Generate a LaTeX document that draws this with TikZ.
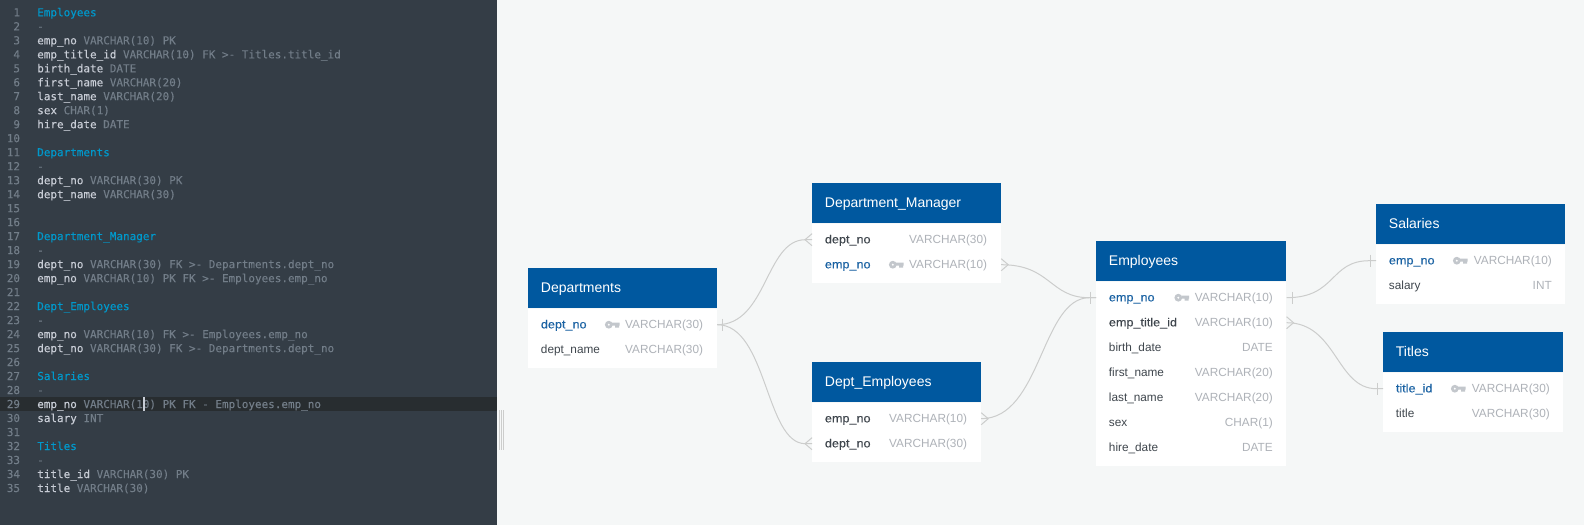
\documentclass[tikz,border=0pt]{standalone}
\usepackage{fontspec}
\setmainfont{Liberation Sans}
\newfontfamily\codefont[FakeBold=0.12]{DejaVu Sans Mono}
\newfontfamily\midfont[FakeBold=0.35,FakeStretch=1.07]{Liberation Sans}
\usetikzlibrary{positioning}
\definecolor{pagebg}{HTML}{F5F7F7}
\definecolor{editorbg}{HTML}{343D46}
\definecolor{editorhl}{HTML}{282D30}
\definecolor{codename}{HTML}{C8CDD6}
\definecolor{codetype}{HTML}{727D88}
\definecolor{codehead}{HTML}{0099CC}
\definecolor{headblue}{HTML}{00589F}
\definecolor{pkblue}{HTML}{1A62A3}
\definecolor{fieldtext}{HTML}{3F464D}
\definecolor{typetext}{HTML}{AEB2B8}
\definecolor{keygrey}{HTML}{C3C7CC}
\definecolor{relgrey}{HTML}{CCCDCC}
\newcommand{\ty}[1]{\textcolor{codetype}{#1}}
\tikzset{
    linenum/.style={anchor=east, inner sep=0pt, text=codetype, text height=8pt, text depth=2pt, font=\codefont\fontsize{8.22}{10}\selectfont},
    codeline/.style={anchor=west, inner sep=0pt, text=codename, text height=8pt, text depth=2pt, font=\codefont\fontsize{8.22}{10}\selectfont},
    codetitle/.style={codeline, text=codehead},
    tablehead/.style={anchor=north west, fill=headblue, text=white, minimum height=30pt, inner ysep=0pt, inner xsep=9.5pt, align=left, text height=8.5pt, text depth=2pt, font=\fontsize{10.5}{12}\selectfont},
    tablebody/.style={anchor=north west, fill=white, inner sep=0pt},
    fieldrow/.style={anchor=west, text width=#1, align=left, minimum height=18.75pt, inner ysep=0pt, inner xsep=9.5pt, text=fieldtext, text height=7.5pt, text depth=2pt, font=\fontsize{8.85}{10}\selectfont},
    fkrow/.style={fieldrow=#1, font=\midfont\fontsize{8.85}{10}\selectfont},
    pkrow/.style={fkrow=#1, text=pkblue},
    fieldtype/.style={anchor=east, inner sep=0pt, text=typetext, text height=7.5pt, text depth=2pt, font=\fontsize{8.85}{10}\selectfont},
    relline/.style={draw=relgrey, line width=0.75pt},
    keyicon/.pic={
        \fill[keygrey, even odd rule] (3.8,0) circle (3.9) (3.8,0) circle (1.3);
        \fill[keygrey] (7,-2) rectangle (14.5,0.8) (10,0.8) rectangle (14,3);
    },
    crowleft/.pic={\draw[relline] (0,-6) -- (-7,0) -- (0,6);},
    crowright/.pic={\draw[relline] (0,-6) -- (7,0) -- (0,6);},
    tickmark/.pic={\draw[relline] (0,-6) -- (0,6);}
}
\begin{document}
\begin{tikzpicture}[x=0.75pt, y=-0.75pt]
    \useasboundingbox (0,0) rectangle (1584,525);
    % Backgrounds
    \fill[pagebg] (0,0) rectangle (1584,525);
    \fill[editorbg] (0,0) rectangle (497,525);
    \fill[editorhl] (0,397) rectangle (497,411);
    % Splitter
    \draw[relgrey, line width=0.75pt] (499.5,410) -- (499.5,450);
    \draw[relgrey, line width=0.75pt] (501.7,410) -- (501.7,450);
    \draw[relgrey, line width=0.75pt] (503.8,410) -- (503.8,450);

    % Line numbers
    \node[linenum] (ln1) at (20.3,12.3) {1};
    \node[linenum] (ln2) at (20.3,26.3) {2};
    \node[linenum] (ln3) at (20.3,40.3) {3};
    \node[linenum] (ln4) at (20.3,54.3) {4};
    \node[linenum] (ln5) at (20.3,68.3) {5};
    \node[linenum] (ln6) at (20.3,82.3) {6};
    \node[linenum] (ln7) at (20.3,96.2) {7};
    \node[linenum] (ln8) at (20.3,110.2) {8};
    \node[linenum] (ln9) at (20.3,124.2) {9};
    \node[linenum] (ln10) at (20.3,138.2) {10};
    \node[linenum] (ln11) at (20.3,152.2) {11};
    \node[linenum] (ln12) at (20.3,166.2) {12};
    \node[linenum] (ln13) at (20.3,180.2) {13};
    \node[linenum] (ln14) at (20.3,194.2) {14};
    \node[linenum] (ln15) at (20.3,208.2) {15};
    \node[linenum] (ln16) at (20.3,222.1) {16};
    \node[linenum] (ln17) at (20.3,236.1) {17};
    \node[linenum] (ln18) at (20.3,250.1) {18};
    \node[linenum] (ln19) at (20.3,264.1) {19};
    \node[linenum] (ln20) at (20.3,278.1) {20};
    \node[linenum] (ln21) at (20.3,292.1) {21};
    \node[linenum] (ln22) at (20.3,306.1) {22};
    \node[linenum] (ln23) at (20.3,320.1) {23};
    \node[linenum] (ln24) at (20.3,334.1) {24};
    \node[linenum] (ln25) at (20.3,348.1) {25};
    \node[linenum] (ln26) at (20.3,362) {26};
    \node[linenum] (ln27) at (20.3,376) {27};
    \node[linenum] (ln28) at (20.3,390) {28};
    \node[linenum] (ln29) at (20.3,404) {29};
    \node[linenum] (ln30) at (20.3,418) {30};
    \node[linenum] (ln31) at (20.3,432) {31};
    \node[linenum] (ln32) at (20.3,446) {32};
    \node[linenum] (ln33) at (20.3,460) {33};
    \node[linenum] (ln34) at (20.3,474) {34};
    \node[linenum] (ln35) at (20.3,488) {35};

    % Code text
    \node[codetitle] (code1) at (37,12.3) {Employees};
    \node[codeline] (code2) at (37,26.3) {\ty{-}};
    \node[codeline] (code3) at (37,40.3) {emp\_no \ty{VARCHAR(10) PK}};
    \node[codeline] (code4) at (37,54.3) {emp\_title\_id \ty{VARCHAR(10) FK >- Titles.title\_id}};
    \node[codeline] (code5) at (37,68.3) {birth\_date \ty{DATE}};
    \node[codeline] (code6) at (37,82.3) {first\_name \ty{VARCHAR(20)}};
    \node[codeline] (code7) at (37,96.2) {last\_name \ty{VARCHAR(20)}};
    \node[codeline] (code8) at (37,110.2) {sex \ty{CHAR(1)}};
    \node[codeline] (code9) at (37,124.2) {hire\_date \ty{DATE}};
    \node[codetitle] (code11) at (37,152.2) {Departments};
    \node[codeline] (code12) at (37,166.2) {\ty{-}};
    \node[codeline] (code13) at (37,180.2) {dept\_no \ty{VARCHAR(30) PK}};
    \node[codeline] (code14) at (37,194.2) {dept\_name \ty{VARCHAR(30)}};
    \node[codetitle] (code17) at (37,236.1) {Department\_Manager};
    \node[codeline] (code18) at (37,250.1) {\ty{-}};
    \node[codeline] (code19) at (37,264.1) {dept\_no \ty{VARCHAR(30) FK >- Departments.dept\_no}};
    \node[codeline] (code20) at (37,278.1) {emp\_no \ty{VARCHAR(10) PK FK >- Employees.emp\_no}};
    \node[codetitle] (code22) at (37,306.1) {Dept\_Employees};
    \node[codeline] (code23) at (37,320.1) {\ty{-}};
    \node[codeline] (code24) at (37,334.1) {emp\_no \ty{VARCHAR(10) FK >- Employees.emp\_no}};
    \node[codeline] (code25) at (37,348.1) {dept\_no \ty{VARCHAR(30) FK >- Departments.dept\_no}};
    \node[codetitle] (code27) at (37,376) {Salaries};
    \node[codeline] (code28) at (37,390) {\ty{-}};
    \node[codeline] (code29) at (37,404) {emp\_no \ty{VARCHAR(10) PK FK - Employees.emp\_no}};
    \node[codeline] (code30) at (37,418) {salary \ty{INT}};
    \node[codetitle] (code32) at (37,446) {Titles};
    \node[codeline] (code33) at (37,460) {\ty{-}};
    \node[codeline] (code34) at (37,474) {title\_id \ty{VARCHAR(30) PK}};
    \node[codeline] (code35) at (37,488) {title \ty{VARCHAR(30)}};
    % Cursor
    \draw[codename, line width=1pt] (144,397) -- (144,411);

    % Departments
    \node[tablehead, text width=122.5pt] (dep_head) at (528,268) {Departments};
    \node[tablebody, minimum width=141.5pt, minimum height=44.5pt] (dep_body) at (dep_head.south west) {};
    \node[pkrow=122.5pt] (dep_dept_no) at (528,324.7) {dept\_no};
    \node[fieldrow=122.5pt] (dep_dept_name) at (528,349.7) {dept\_name};
    \pic at (605,324.7) {keyicon};
    \node[fieldtype] (dep_t1) at (703.3,324.7) {VARCHAR(30)};
    \node[fieldtype] (dep_t2) at (703.3,349.7) {VARCHAR(30)};

    % Department_Manager
    \node[tablehead, text width=122.5pt] (dm_head) at (812,183) {Department\_Manager};
    \node[tablebody, minimum width=141.5pt, minimum height=44.5pt] (dm_body) at (dm_head.south west) {};
    \node[fkrow=122.5pt] (dm_dept_no) at (812,239.7) {dept\_no};
    \node[pkrow=122.5pt] (dm_emp_no) at (812,264.7) {emp\_no};
    \pic at (889,264.7) {keyicon};
    \node[fieldtype] (dm_t1) at (987.3,239.7) {VARCHAR(30)};
    \node[fieldtype] (dm_t2) at (987.3,264.7) {VARCHAR(10)};

    % Dept_Employees
    \node[tablehead, text width=107.5pt] (de_head) at (812,362) {Dept\_Employees};
    \node[tablebody, minimum width=126.5pt, minimum height=44.5pt] (de_body) at (de_head.south west) {};
    \node[fkrow=107.5pt] (de_emp_no) at (812,418.7) {emp\_no};
    \node[fkrow=107.5pt] (de_dept_no) at (812,443.7) {dept\_no};
    \node[fieldtype] (de_t1) at (967.3,418.7) {VARCHAR(10)};
    \node[fieldtype] (de_t2) at (967.3,443.7) {VARCHAR(30)};

    % Employees
    \node[tablehead, text width=123.5pt] (emp_head) at (1096,241) {Employees};
    \node[tablebody, minimum width=142.5pt, minimum height=138.25pt] (emp_body) at (emp_head.south west) {};
    \node[pkrow=123.5pt] (emp_emp_no) at (1096,297.7) {emp\_no};
    \node[fkrow=123.5pt] (emp_title_id) at (1096,322.7) {emp\_title\_id};
    \node[fieldrow=123.5pt] (emp_birth) at (1096,347.7) {birth\_date};
    \node[fieldrow=123.5pt] (emp_first) at (1096,372.7) {first\_name};
    \node[fieldrow=123.5pt] (emp_last) at (1096,397.7) {last\_name};
    \node[fieldrow=123.5pt] (emp_sex) at (1096,422.7) {sex};
    \node[fieldrow=123.5pt] (emp_hire) at (1096,447.7) {hire\_date};
    \pic at (1174.5,297.7) {keyicon};
    \node[fieldtype] (emp_t1) at (1273,297.7) {VARCHAR(10)};
    \node[fieldtype] (emp_t2) at (1273,322.7) {VARCHAR(10)};
    \node[fieldtype] (emp_t3) at (1273,347.7) {DATE};
    \node[fieldtype] (emp_t4) at (1273,372.7) {VARCHAR(20)};
    \node[fieldtype] (emp_t5) at (1273,397.7) {VARCHAR(20)};
    \node[fieldtype] (emp_t6) at (1273,422.7) {CHAR(1)};
    \node[fieldtype] (emp_t7) at (1273,447.7) {DATE};

    % Salaries
    \node[tablehead, text width=122.5pt] (sal_head) at (1376,204) {Salaries};
    \node[tablebody, minimum width=141.5pt, minimum height=44.5pt] (sal_body) at (sal_head.south west) {};
    \node[pkrow=122.5pt] (sal_emp_no) at (1376,260.7) {emp\_no};
    \node[fieldrow=122.5pt] (sal_salary) at (1376,285.7) {salary};
    \pic at (1453,260.7) {keyicon};
    \node[fieldtype] (sal_t1) at (1552,260.7) {VARCHAR(10)};
    \node[fieldtype] (sal_t2) at (1552,285.7) {INT};

    % Titles
    \node[tablehead, text width=116pt] (tit_head) at (1383,332) {Titles};
    \node[tablebody, minimum width=135pt, minimum height=44.5pt] (tit_body) at (tit_head.south west) {};
    \node[pkrow=116pt] (tit_title_id) at (1383,388.7) {title\_id};
    \node[fieldrow=116pt] (tit_title) at (1383,413.7) {title};
    \pic at (1451,388.7) {keyicon};
    \node[fieldtype] (tit_t1) at (1550,388.7) {VARCHAR(30)};
    \node[fieldtype] (tit_t2) at (1550,413.7) {VARCHAR(30)};

    % Relations
    \draw[relline] (dep_dept_no.east) .. controls +(50,0) and +(-40,0) .. ([xshift=-5pt]dm_dept_no.west) -- (dm_dept_no.west);
    \draw[relline] (dep_dept_no.east) .. controls +(50,0) and +(-40,0) .. ([xshift=-5pt]de_dept_no.west) -- (de_dept_no.west);
    \draw[relline] (dm_emp_no.east) .. controls +(50,0) and +(-40,0) .. ([xshift=-5pt]emp_emp_no.west) -- (emp_emp_no.west);
    \draw[relline] (de_emp_no.east) .. controls +(60,0) and +(-48,0) .. ([xshift=-5pt]emp_emp_no.west) -- (emp_emp_no.west);
    \draw[relline] (emp_emp_no.east) .. controls +(50,0) and +(-40,0) .. ([xshift=-5pt]sal_emp_no.west) -- (sal_emp_no.west);
    \draw[relline] (emp_title_id.east) .. controls +(50,0) and +(-40,0) .. ([xshift=-5pt]tit_title_id.west) -- (tit_title_id.west);

    % End marks
    \pic at ([xshift=4pt]dep_dept_no.east) {tickmark};
    \pic at (dm_dept_no.west) {crowleft};
    \pic at (de_dept_no.west) {crowleft};
    \pic at (dm_emp_no.east) {crowright};
    \pic at (de_emp_no.east) {crowright};
    \pic at ([xshift=-4.5pt]emp_emp_no.west) {tickmark};
    \pic at ([xshift=4.5pt]emp_emp_no.east) {tickmark};
    \pic at (emp_title_id.east) {crowright};
    \pic at ([xshift=-4.5pt]sal_emp_no.west) {tickmark};
    \pic at ([xshift=-4.5pt]tit_title_id.west) {tickmark};
\end{tikzpicture}
\end{document}
